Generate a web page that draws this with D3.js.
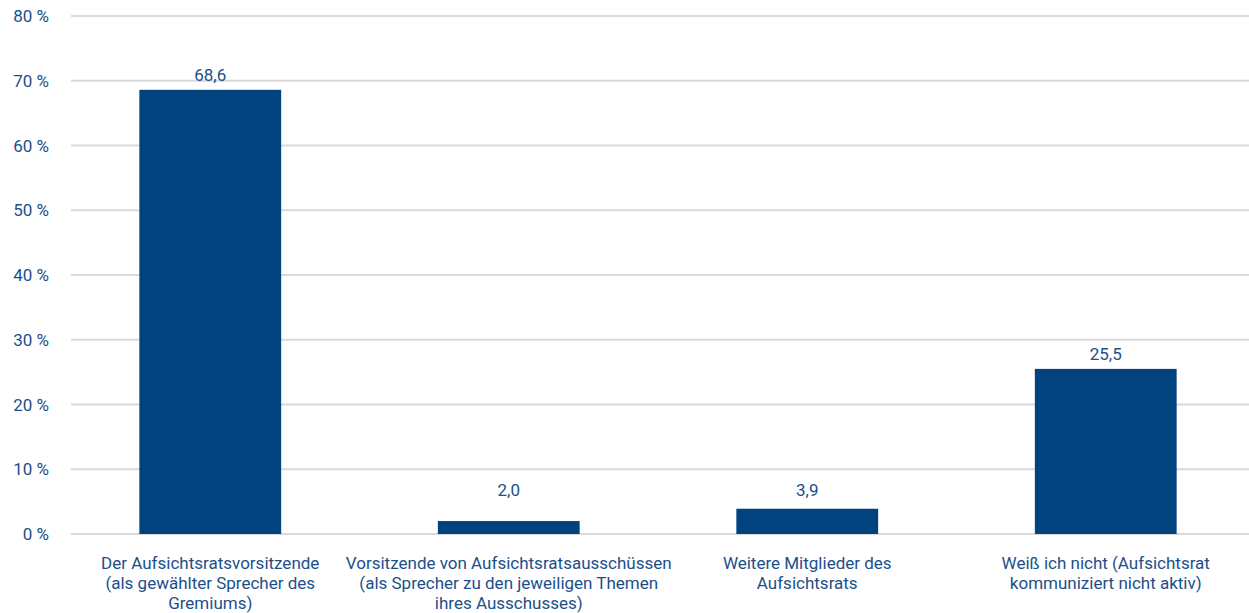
<!DOCTYPE html>
<html>
<head>
<meta charset="utf-8">
<script src="https://cdn.jsdelivr.net/npm/d3@7"></script>
<style>
  body { margin: 0; background: #fff; }
  svg text { font-family: Roboto, sans-serif; fill: #1c4f8a; }
</style>
</head>
<body>
<div id="chart"></div>
<script>
// chart values
const categories = [
  ['Der Aufsichtsratsvorsitzende', '(als gewählter Sprecher des', 'Gremiums)'],
  ['Vorsitzende von Aufsichtsratsausschüssen', '(als Sprecher zu den jeweiligen Themen', 'ihres Ausschusses)'],
  ['Weitere Mitglieder des', 'Aufsichtsrats'],
  ['Weiß ich nicht (Aufsichtsrat', 'kommuniziert nicht aktiv)']
];
const values = [68.6, 2.0, 3.9, 25.5];
const yTicks = [0, 10, 20, 30, 40, 50, 60, 70, 80];

const width = 1249;
const height = 613;

const svg = d3.select('#chart')
  .append('svg')
  .attr('width', width)
  .attr('height', height);

const x = d3.scaleBand()
  .domain(d3.range(values.length))
  .range([61, 1255])
  .paddingInner(0.525)
  .paddingOuter(0.2625);

const y = d3.scaleLinear()
  .domain([0, 80])
  .range([534, 16]);

// gridlines
svg.append('g')
  .selectAll('line')
  .data(yTicks)
  .enter()
  .append('line')
  .attr('x1', 71)
  .attr('x2', width)
  .attr('y1', d => y(d))
  .attr('y2', d => y(d))
  .attr('stroke', '#d9d9d9')
  .attr('stroke-width', 2);

// y tick labels
svg.append('g')
  .selectAll('text')
  .data(yTicks)
  .enter()
  .append('text')
  .attr('x', 49)
  .attr('y', d => y(d))
  .attr('dy', '0.36em')
  .attr('text-anchor', 'end')
  .style('font-size', '17px')
  .text(d => d + ' %');

// bars
svg.append('g')
  .selectAll('rect')
  .data(values)
  .enter()
  .append('rect')
  .attr('x', (d, i) => x(i))
  .attr('width', x.bandwidth())
  .attr('y', d => y(d))
  .attr('height', d => y(0) - y(d))
  .attr('fill', '#02427f');

// value labels
svg.append('g')
  .selectAll('text')
  .data(values)
  .enter()
  .append('text')
  .attr('x', (d, i) => x(i) + x.bandwidth() / 2)
  .attr('y', d => Math.min(y(d) - 9, y(5.8)))
  .attr('text-anchor', 'middle')
  .style('font-size', '17px')
  .text(d => d3.format('.1f')(d).replace('.', ','));

// category labels
const cats = svg.append('g')
  .selectAll('text')
  .data(categories)
  .enter()
  .append('text')
  .attr('text-anchor', 'middle')
  .style('font-size', '17px');

cats.selectAll('tspan')
  .data((d, i) => d.map(line => ({ line, i })))
  .enter()
  .append('tspan')
  .attr('x', d => x(d.i) + x.bandwidth() / 2)
  .attr('y', (d, j) => 569 + j * 20)
  .text(d => d.line);
</script>
</body>
</html>
